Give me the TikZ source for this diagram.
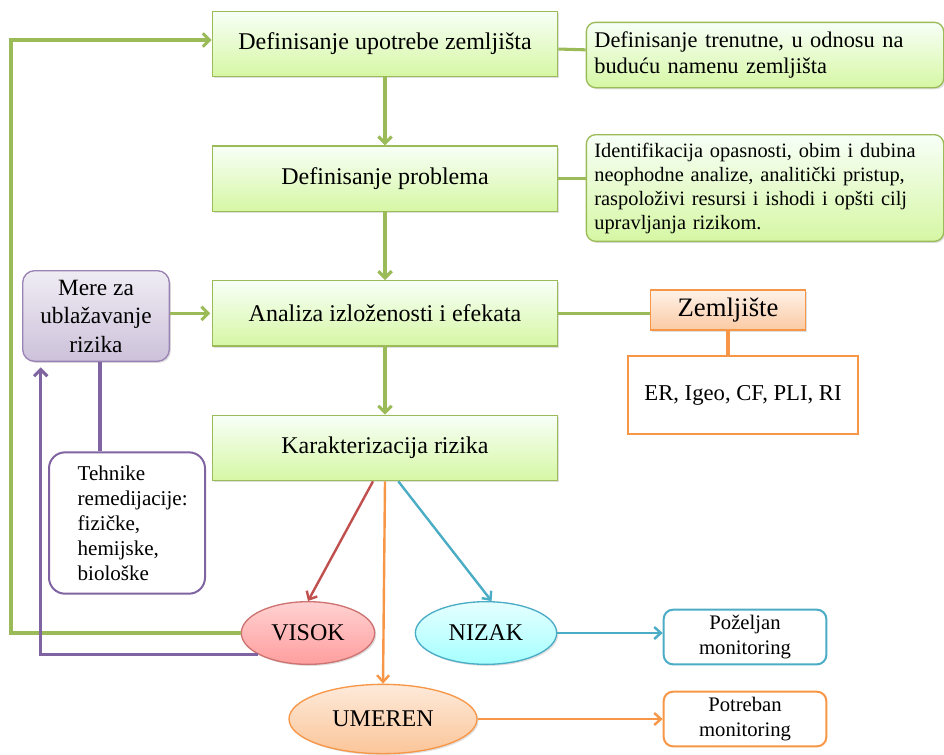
\documentclass[tikz,border=0pt]{standalone}
\usepackage{fontspec}
\setmainfont{Liberation Serif}
\usetikzlibrary{arrows.meta,shapes.geometric,shadows,positioning}
\definecolor{zelena}{HTML}{9BBB59}
\definecolor{ljubicasta}{HTML}{8064A2}
\definecolor{narandzasta}{HTML}{F79646}
\definecolor{crvena}{HTML}{C0504D}
\definecolor{plava}{HTML}{4BACC6}
\definecolor{svetlozelena}{HTML}{D6F7A4}
\tikzset{
	senka/.style    = {drop shadow={opacity=0.25, shadow xshift=1.2pt, shadow yshift=-1.2pt}},
	korak/.style    = {shape=rectangle, draw=zelena, line width=1pt, senka,
		top color=green!3!white, bottom color=svetlozelena,
		minimum width=259pt, minimum height=49pt, font=\fontsize{18}{21}\selectfont},
	opis/.style     = {korak, rounded corners=7pt, align=left, text width=256pt,
		minimum width=268pt, font=\fontsize{16.8}{20}\selectfont},
	mera/.style     = {shape=rectangle, rounded corners=9pt, draw=ljubicasta!80, line width=1pt, senka,
		top color=ljubicasta!12, bottom color=ljubicasta!40, align=center, inner sep=1pt,
		minimum width=110pt, minimum height=68pt, font=\fontsize{17.5}{21.4}\selectfont},
	tehnika/.style  = {shape=rectangle, rounded corners=12pt, draw=ljubicasta, line width=1.5pt,
		fill=white, align=left, text width=74pt, minimum width=117pt, minimum height=106pt,
		font=\fontsize{15.8}{18.8}\selectfont},
	tlo/.style      = {shape=rectangle, draw=narandzasta, line width=1pt, senka,
		top color=narandzasta!12, bottom color=narandzasta!50,
		minimum width=116pt, minimum height=30pt, font=\fontsize{20}{22}\selectfont},
	indeksi/.style  = {shape=rectangle, draw=narandzasta, line width=1.5pt, fill=white,
		minimum width=172pt, minimum height=59pt, font=\fontsize{17}{20}\selectfont},
	rizik/.style    = {shape=ellipse, line width=1pt, senka, font=\fontsize{18}{20}\selectfont,
		inner sep=1pt, minimum height=47pt},
	monitor/.style  = {shape=rectangle, rounded corners=7pt, line width=1.5pt, fill=white, align=center,
		inner sep=1pt, minimum width=122pt, minimum height=41pt, font=\fontsize{15.5}{18.5}\selectfont},
	veza/.style     = {draw=zelena, line width=2.3pt},
	strelica/.style = {veza, -{Straight Barb[length=5pt,width=10pt]}},
	grana/.style    = {line width=1.8pt, -{Straight Barb[length=5pt,width=9pt]}}
}

\begin{document}
\begin{tikzpicture}
	[
	x = 0.75pt,
	y = -0.75pt,
	every node/.style = {text=black}
	]
	\useasboundingbox (0,0) rectangle (944,754);
	% glavni koraci
	\node [korak] (upotreba) at (385,44) {Definisanje upotrebe zemljišta};
	\node [korak, below=51pt of upotreba] (problem) {Definisanje problema};
	\node [korak, below=51pt of problem] (analiza) {Analiza izloženosti i efekata};
	\node [korak, below=51pt of analiza] (karakter) {Karakterizacija rizika};
	% opisi desno
	\node [opis] (opis1) at (765,55) {Definisanje trenutne, u odnosu na\\buduću namenu zemljišta};
	\node [opis, minimum height=80pt, font=\fontsize{15.3}{18}\selectfont] (opis2) at (765,188)
		{Identifikacija opasnosti, obim i dubina\\neophodne analize, analitički pristup,\\raspoloživi resursi i ishodi i opšti cilj\\upravljanja rizikom.};
	\node [tlo] (zemljiste) at (728,310) {Zemljište};
	\node [indeksi] (er) at (743,395) {ER, Igeo, CF, PLI, RI};
	% mere
	\node [mera] (mere) at (96,316) {Mere za\\ublažavanje\\rizika};
	\node [tehnika] (tehnike) at (127,523) {Tehnike\\remedijacije:\\fizičke,\\hemijske,\\biološke};
	% nivoi rizika
	\node [rizik, draw=crvena!80, top color=red!18, bottom color=red!38, minimum width=100pt] (visok) at (308,633) {VISOK};
	\node [rizik, draw=plava, top color=cyan!10, bottom color=cyan!35, minimum width=106pt] (nizak) at (486,633) {NIZAK};
	\node [rizik, draw=narandzasta, top color=narandzasta!20, bottom color=narandzasta!55, minimum width=141pt, minimum height=52pt] (umeren) at (383,719) {UMEREN};
	\node [monitor, draw=plava] (pozeljan) at (745,637) {Poželjan\\monitoring};
	\node [monitor, draw=narandzasta] (potreban) at (745,719) {Potreban\\monitoring};

	\draw [strelica] (upotreba) -- (problem);
	\draw [strelica] (problem) -- (analiza);
	\draw [strelica] (analiza) -- (karakter);
	\draw [veza] (upotreba) -- (opis1);
	\draw [veza] (problem.east) -- (opis2.west |- problem.east);
	\draw [veza] (analiza.east) -- (zemljiste.west |- analiza.east);
	\draw [draw=narandzasta, line width=2.3pt] (zemljiste.south) -- (zemljiste.south |- er.north);
	\draw [strelica, shorten >=1pt] (mere.east |- analiza.west) -- (analiza.west);
	\draw [draw=ljubicasta, line width=2.3pt] ([xshift=3pt]mere.south) -- ([xshift=3pt]mere.south |- tehnike.north);
	% grane rizika
	\draw [grana, draw=crvena] ([xshift=-9pt]karakter.south) -- (visok.north);
	\draw [grana, draw=plava] ([xshift=10pt]karakter.south) -- (nizak.80);
	\draw [grana, draw=narandzasta] (karakter.south) -- (umeren.north);
	\draw [grana, draw=plava] (nizak.east) -- (nizak.east -| pozeljan.west);
	\draw [grana, draw=narandzasta] (umeren.east) -- (umeren.east -| potreban.west);
	% povratne veze
	\draw [strelica] (visok.west) -| (11,40) -- (upotreba.west |- 0,40);
	\draw [draw=ljubicasta, line width=2.3pt, -{Straight Barb[length=5pt,width=10pt]}, shorten >=4pt]
		(visok.203) -| ([xshift=14pt]mere.south west);
\end{tikzpicture}
\end{document}
